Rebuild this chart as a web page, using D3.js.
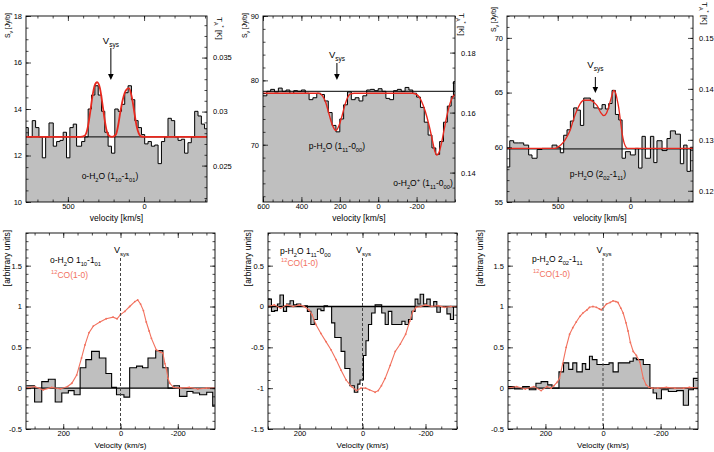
<!DOCTYPE html>
<html><head><meta charset="utf-8">
<script src="https://cdn.jsdelivr.net/npm/d3@7"></script>
<style>
body{margin:0;background:#fff}
svg{display:block}
text{font-family:"Liberation Sans",Arial,Helvetica,sans-serif}
</style>
</head><body>
<svg id="c" width="714" height="452"></svg>
<script>
// ---------------- DATA ----------------
// Top row: spectra (flux density, Jy/beam) on channel edges (km/s)
const p1Edges = [775,760,734,712,690,668,646,624,596,574,552,531,509,487,465,443,410,389,367,345,323,301,279,258,236,214,192,170,148,127,105,83,61,39,17,-4,-26,-48,-70,-92,-114,-135,-157,-179,-201,-223,-245,-266,-288,-310,-332,-354,-376,-397,-413];
const p1Flux  = [13.2,12.8,13.5,13.2,12.8,11.9,12.8,13.4,12.4,12.6,12.65,13.0,11.9,13.2,13.35,12.4,12.6,12.8,14.0,14.6,15.0,14.6,13.9,13.0,12.4,12.1,14.0,13.9,14.2,14.7,15.0,14.4,13.5,13.2,12.9,12.5,12.6,12.4,12.45,11.65,12.6,12.8,13.6,13.5,12.8,12.65,12.7,12.1,12.55,12.8,13.9,13.7,13.35,13.15];
const p1FitV  = [775,420,390,370,355,340,325,308,290,275,260,245,230,210,185,170,155,140,120,100,80,65,50,35,20,0,-413];
const p1FitF  = [12.8,12.8,12.85,13.2,13.8,14.5,15.0,15.15,14.9,14.3,13.6,13.05,12.85,12.8,12.9,13.3,13.9,14.4,14.8,14.9,14.5,13.9,13.3,12.95,12.82,12.8,12.8];

const p2Edges = [600,580,560,540,520,500,480,460,440,420,400,380,360,340,320,300,280,260,240,220,200,180,160,140,120,100,80,60,40,20,0,-20,-40,-60,-80,-100,-120,-140,-160,-180,-200,-220,-240,-260,-280,-300,-320,-340,-360,-380,-392,-400];
const p2Flux  = [77.6,78.3,78.6,78.2,78.8,78.3,78.5,78.0,78.4,78.3,78.5,78.0,77.0,77.3,78.0,77.8,76.8,75.0,73.0,72.0,74.0,76.2,78.2,77.0,77.3,76.8,77.6,78.5,78.6,78.4,78.7,78.3,77.2,77.0,78.4,78.6,78.3,78.9,78.5,78.0,77.4,75.8,73.5,71.5,69.5,68.5,70.5,73.5,76.0,77.5,79.8];
const p2FitV  = [600,310,290,275,260,245,230,220,205,190,175,160,145,125,-180,-205,-225,-245,-265,-280,-295,-305,-315,-330,-345,-360,-375,-390,-400];
const p2FitF  = [78,78,77.6,76.7,75.2,73.6,72.5,72.2,72.9,74.3,76.0,77.3,77.9,78,78,77.7,76.8,75.2,73.0,71.0,69.0,68.4,68.7,70.3,72.6,74.8,76.5,77.5,77.8];

const p3Edges = [849,830,803,768,734,700,677,642,608,539,505,482,459,436,413,390,367,344,321,298,275,252,218,195,172,149,126,103,80,57,34,0,-34,-57,-80,-103,-138,-161,-183,-218,-252,-275,-310,-344,-367,-390,-413,-431];
const p3Flux  = [58.2,60.6,60.4,60.4,60.2,59.3,59.0,59.8,59.9,60.2,60.0,59.5,61.1,61.6,62.4,63.6,63.4,62.0,64.5,64.5,64.3,63.6,63.5,63.9,63.5,64.0,65.2,63.0,62.5,59.0,59.6,59.3,59.9,58.1,61.0,59.0,61.0,58.6,60.6,59.7,60.8,61.5,61.2,58.5,60.2,57.8,60.0];
const p3FitV  = [849,520,490,459,435,413,390,367,345,321,275,250,229,205,183,165,149,130,115,100,90,80,68,57,45,34,20,-431];
const p3FitF  = [59.9,59.9,60.1,60.5,61.0,61.6,62.6,63.4,64.0,64.3,64.3,64.1,63.8,63.2,62.9,63.1,63.7,64.6,65.2,64.9,64.3,63.6,62.4,61.3,60.5,60.1,59.9,59.9];

const topBaselines = [12.8, 78.3, 59.85];
const topVsys      = [218, 215, 241];

// Bottom row: normalised profiles (arbitrary units)
const p4Edges = [329,300,275,252,228,205,182,162,141,121,101,74,51,31,14,-12,-32,-56,-77,-96,-123,-148,-166,-186,-206,-232,-253,-276,-301,-322,-329];
const p4H2O   = [0.03,-0.17,0.08,0.11,-0.17,-0.06,-0.03,-0.08,0.25,0.35,0.45,0.37,0.18,0.01,-0.08,-0.11,0.25,0.27,0.25,0.37,0.46,0.25,0.0,0.03,-0.1,-0.04,-0.06,-0.08,-0.05,-0.22];
const p4COv   = [330,300,270,240,210,185,170,153,136,124,110,95,72,50,26,12,0,-15,-32,-50,-60,-70,-80,-90,-100,-108,-125,-140,-148,-155,-160,-166,-172,-185,-210,-240,-270,-300,-330];
const p4CO    = [0,0.02,-0.02,0.01,-0.01,0.02,0.06,0.16,0.37,0.53,0.68,0.76,0.81,0.85,0.87,0.85,0.9,0.94,1.0,1.06,1.08,1.03,0.95,0.81,0.7,0.61,0.47,0.44,0.43,0.3,0.24,0.12,0.06,0.01,0,0.01,-0.01,0,0];

const p5Edges = [300,289,279,270,262,251,241,230,219,209,196,185,175,164,153,143,132,122,111,98,88,68,56,40,26,15,8,-3,-11,-19,-29,-40,-50,-61,-72,-82,-93,-104,-114,-125,-135,-146,-157,-167,-176,-183,-194,-204,-215,-226,-236,-247,-258,-268,-279,-289,-300];
const p5H2O   = [0.09,-0.06,-0.05,0.03,0.14,-0.06,0.03,0.07,0.02,0.03,0.0,0.01,-0.06,-0.22,-0.16,-0.03,-0.05,0.01,0.0,-0.2,-0.38,-0.55,-0.76,-0.97,-1.05,-0.95,-0.9,-0.6,-0.42,-0.22,-0.08,0.02,0.02,-0.08,-0.22,-0.06,-0.22,-0.22,-0.22,-0.18,-0.22,-0.16,-0.06,0.09,0.03,0.15,0.03,0.09,0.0,0.06,-0.07,0.0,0.0,-0.09,-0.16,0.0];
const p5COv   = [300,280,260,240,220,200,185,170,160,148,132,116,100,84,68,52,35,19,5,-10,-22,-40,-50,-60,-72,-88,-104,-120,-137,-150,-160,-170,-185,-200,-220,-240,-260,-280,-300];
const p5CO    = [0,0.02,-0.02,0.02,0,0.02,0,-0.04,-0.1,-0.22,-0.33,-0.43,-0.53,-0.65,-0.78,-0.9,-0.98,-1.03,-1.0,-1.0,-1.02,-1.05,-1.03,-0.97,-0.88,-0.72,-0.55,-0.46,-0.34,-0.18,-0.06,-0.01,0,0.02,0,0.01,-0.01,0,0];

const p6Edges = [331,308,279,256,233,215,192,177,153,137,119,105,91,72,60,47,37,21,2,-21,-35,-53,-72,-93,-105,-116,-140,-163,-174,-186,-203,-227,-256,-279,-297,-314,-329];
const p6H2O   = [0.02,-0.01,0.02,-0.02,0.06,0.08,0.04,0.0,0.2,0.31,0.23,0.31,0.2,0.3,0.23,0.39,0.35,0.29,0.29,0.31,0.2,0.31,0.31,0.33,0.37,0.35,0.29,0.0,-0.06,-0.13,-0.02,-0.04,-0.03,-0.21,-0.02,0.12];
const p6COv   = [330,300,270,240,215,195,180,170,160,151,140,128,116,105,93,80,70,55,47,35,23,12,6,-2,-12,-25,-35,-45,-52,-62,-70,-80,-87,-95,-105,-116,-128,-140,-150,-160,-170,-190,-220,-250,-280,-300,-330];
const p6CO    = [0,0.02,-0.01,0.02,-0.03,0.02,0,0.03,0.07,0.12,0.3,0.5,0.66,0.74,0.81,0.88,0.92,0.96,0.99,1.0,0.99,0.97,0.96,0.99,1.03,1.05,1.07,1.06,1.05,0.98,0.92,0.8,0.7,0.56,0.45,0.4,0.32,0.12,0.04,0.01,0,0,0.01,0,0,0.01,0];

// Tick labels
const topXTicks = [[500,0],[600,400,200,0,-200],[500,0]];
const topYTicks = [[10,12,14,16,18],[70,80,90],[55,60,65,70]];
const topY2Ticks = [[0.025,0.03,0.035],[0.14,0.16,0.18],[0.12,0.13,0.14,0.15]];
const botXTicks = [200,0,-200];
const botYTicks = [[-0.5,0,0.5,1,1.5],[-1.5,-1,-0.5,0,0.5],[-0.5,0,0.5,1,1.5]];

// ---------------- STYLE / LAYOUT ----------------
const GRAY = "#bfbfbf", RED = "#e8281e", CORED = "#f2715e";
const svg = d3.select("#c");
const fmt = v => String(+v.toFixed(4));

function rich(g, x, y, parts, size, color, anchor, transform) {
  const t = g.append("text").attr("x", x).attr("y", y).attr("font-size", size)
    .attr("fill", color).attr("text-anchor", anchor || "start");
  if (transform) t.attr("transform", transform);
  let off = 0;
  parts.forEach(([s, k]) => {
    const target = k === "sub" ? size * 0.32 : k === "sup" ? -size * 0.42 : 0;
    t.append("tspan").attr("dy", (target - off).toFixed(2))
      .attr("font-size", k === "n" ? size : size * 0.68).text(s);
    off = target;
  });
  return t;
}

function axes(g, fr, x, y, y2, xMaj, xMin, yMaj, yMin, y2Maj, y2Min, xPad) {
  const tsz = 7.5;
  const style = sel => {
    sel.select(".domain").remove();
    sel.selectAll("line").attr("stroke", "#000").attr("stroke-width", 0.7);
    sel.selectAll("text").attr("font-size", tsz).attr("fill", "#000")
      .style("font-family", '"Liberation Sans",Arial,sans-serif');
  };
  const mk = (gen, sc, vals, size, lab, tr, pad) => {
    const a = gen(sc).tickValues(vals).tickSize(size).tickPadding(pad || 4)
      .tickFormat(lab ? fmt : () => "");
    g.append("g").attr("transform", tr).call(a).call(style);
  };
  mk(d3.axisBottom, x, xMaj, -5, true, `translate(0,${fr.y1})`, xPad);
  mk(d3.axisBottom, x, xMin, -2.5, false, `translate(0,${fr.y1})`);
  mk(d3.axisTop, x, xMaj, -5, false, `translate(0,${fr.y0})`);
  mk(d3.axisTop, x, xMin, -2.5, false, `translate(0,${fr.y0})`);
  mk(d3.axisLeft, y, yMaj, -5, true, `translate(${fr.x0},0)`, 4);
  mk(d3.axisLeft, y, yMin, -2.5, false, `translate(${fr.x0},0)`);
  if (y2) {
    mk(d3.axisRight, y2, y2Maj, -5, true, `translate(${fr.x1},0)`, 6);
    mk(d3.axisRight, y2, y2Min, -2.5, false, `translate(${fr.x1},0)`);
  } else {
    mk(d3.axisRight, y, yMaj, -5, false, `translate(${fr.x1},0)`);
    mk(d3.axisRight, y, yMin, -2.5, false, `translate(${fr.x1},0)`);
  }
  g.append("rect").attr("x", fr.x0).attr("y", fr.y0).attr("width", fr.x1 - fr.x0)
    .attr("height", fr.y1 - fr.y0).attr("fill", "none").attr("stroke", "#000").attr("stroke-width", 0.9);
}

function stepPts(edges, vals) {
  return edges.map((e, i) => [e, vals[Math.min(i, vals.length - 1)]]);
}

// ---------------- TOP ROW ----------------
const topCfg = [
  {fr:{x0:26,x1:207,y0:16,y1:202}, xd:[775,-413], yd:[10,18], y2d:[0.02163,0.03885],
   e:p1Edges, f:p1Flux, fv:p1FitV, ff:p1FitF, xMin:d3.range(700,-401,-100), yMin:d3.range(10,18.01,0.5), y2Min:d3.range(0.022,0.0385,0.001),
   fitW:1.8, lab:{x:110,y:179}, vs:{ty:44, a0:48, a1:80},
   yl:[10,13], y2l:[217,17]},
  {fr:{x0:263,x1:455,y0:16,y1:202}, xd:[600,-400], yd:[61.1,90], y2d:[0.1302,0.1922],
   e:p2Edges, f:p2Flux, fv:p2FitV, ff:p2FitF, xMin:d3.range(600,-401,-50), yMin:d3.range(62,90.01,2), y2Min:d3.range(0.135,0.19,0.005),
   fitW:1.4, lab:{x:337,y:149}, vs:{ty:58, a0:63, a1:80},
   yl:[247,13], y2l:[459,13]},
  {fr:{x0:507,x1:693,y0:16,y1:202}, xd:[849,-431], yd:[55,72], y2d:[0.1178,0.1543],
   e:p3Edges, f:p3Flux, fv:p3FitV, ff:p3FitF, xMin:d3.range(800,-401,-100), yMin:d3.range(55,72.01,1), y2Min:d3.range(0.118,0.154,0.002),
   fitW:1.3, lab:{x:598,y:177}, vs:{ty:68, a0:77, a1:93},
   yl:[496,7], y2l:[702,2]}
];
const topLabels = [
  [["o-H","n"],["2","sub"],["O (1","n"],["10","sub"],["-1","n"],["01","sub"],[")","n"]],
  [["p-H","n"],["2","sub"],["O (1","n"],["11","sub"],["-0","n"],["00","sub"],[")","n"]],
  [["p-H","n"],["2","sub"],["O (2","n"],["02","sub"],["-1","n"],["11","sub"],[")","n"]]
];

topCfg.forEach((c, i) => {
  const g = svg.append("g");
  const fr = c.fr;
  const x = d3.scaleLinear().domain(c.xd).range([fr.x0, fr.x1]);
  const y = d3.scaleLinear().domain(c.yd).range([fr.y1, fr.y0]);
  const y2 = d3.scaleLinear().domain(c.y2d).range([fr.y1, fr.y0]);
  const cid = "clipT" + i;
  g.append("clipPath").attr("id", cid).append("rect")
    .attr("x", fr.x0).attr("y", fr.y0).attr("width", fr.x1 - fr.x0).attr("height", fr.y1 - fr.y0);
  const pg = g.append("g").attr("clip-path", `url(#${cid})`);
  const pts = stepPts(c.e, c.f);
  pg.append("path").datum(pts).attr("fill", GRAY)
    .attr("d", d3.area().x(d => x(d[0])).y0(fr.y1).y1(d => y(d[1])).curve(d3.curveStepAfter));
  pg.append("path").datum(pts).attr("fill", "none").attr("stroke", "#000").attr("stroke-width", 1)
    .attr("d", d3.line().x(d => x(d[0])).y(d => y(d[1])).curve(d3.curveStepAfter));
  pg.append("line").attr("x1", fr.x0).attr("x2", fr.x1)
    .attr("y1", y(topBaselines[i])).attr("y2", y(topBaselines[i])).attr("stroke", "#000").attr("stroke-width", 1);
  const fit = c.fv.map((v, k) => [v, c.ff[k]]);
  pg.append("path").datum(fit).attr("fill", "none").attr("stroke", RED).attr("stroke-width", c.fitW)
    .attr("d", d3.line().x(d => x(d[0])).y(d => y(d[1])).curve(d3.curveMonotoneX));
  axes(g, fr, x, y, y2, topXTicks[i], c.xMin, topYTicks[i], c.yMin, topY2Ticks[i], c.y2Min, 2);

  rich(g, c.lab.x, c.lab.y, topLabels[i], 8.5, "#000", "middle");
  if (i === 1) {
    rich(g, 423, 186, [["o-H","n"],["2","sub"],["O","n"],["+","sup"],[" (1","n"],["11","sub"],["-0","n"],["00","sub"],[")","n"]], 8.5, "#000", "middle");
  }
  const vx = x(topVsys[i]);
  rich(g, vx, c.vs.ty, [["V","n"],["sys","sub"]], 9.5, "#000", "middle");
  g.append("line").attr("x1", vx).attr("x2", vx).attr("y1", c.vs.a0).attr("y2", c.vs.a1 - 5)
    .attr("stroke", "#000").attr("stroke-width", 1);
  g.append("path").attr("d", `M${vx - 2.8},${c.vs.a1 - 6}L${vx + 2.8},${c.vs.a1 - 6}L${vx},${c.vs.a1}Z`).attr("fill", "#000");
  rich(g, 0, 0, [["S","n"],["ν","sub"],[" [Jy/b]","n"]], 8, "#000", "end",
       `translate(${c.yl[0]},${c.yl[1]}) rotate(-90)`).attr("textLength", 25).attr("lengthAdjust", "spacingAndGlyphs");
  rich(g, 0, 0, [["T","n"],["A","sub"],["*","sup"],[" [K]","n"]], 8, "#000", "start",
       `translate(${c.y2l[0]},${c.y2l[1]}) rotate(90)`);
  g.append("text").attr("x", (fr.x0 + fr.x1) / 2).attr("y", 221).attr("font-size", 8.5)
    .attr("text-anchor", "middle").text("velocity [km/s]");
});

// ---------------- BOTTOM ROW ----------------
const botCfg = [
  {fr:{x0:26,x1:215,y0:233,y1:429}, xd:[330,-330], yd:[-0.5,1.9], e:p4Edges, h:p4H2O, cv:p4COv, co:p4CO,
   leg:{x:50,y1:263,y2:278}, yl:[10,230],
   name:[["o-H","n"],["2","sub"],["O 1","n"],["10","sub"],["-1","n"],["01","sub"]]},
  {fr:{x0:268,x1:457,y0:233,y1:429}, xd:[300,-300], yd:[-1.5,0.9], e:p5Edges, h:p5H2O, cv:p5COv, co:p5CO,
   leg:{x:280,y1:254,y2:266}, yl:[251,230],
   name:[["p-H","n"],["2","sub"],["O 1","n"],["11","sub"],["-0","n"],["00","sub"]]},
  {fr:{x0:508,x1:698,y0:233,y1:429}, xd:[330,-330], yd:[-0.5,1.9], e:p6Edges, h:p6H2O, cv:p6COv, co:p6CO,
   leg:{x:532,y1:262,y2:277}, yl:[483,230],
   name:[["p-H","n"],["2","sub"],["O 2","n"],["02","sub"],["-1","n"],["11","sub"]]}
];

botCfg.forEach((c, i) => {
  const g = svg.append("g");
  const fr = c.fr;
  const x = d3.scaleLinear().domain(c.xd).range([fr.x0, fr.x1]);
  const y = d3.scaleLinear().domain(c.yd).range([fr.y1, fr.y0]);
  const cid = "clipB" + i;
  g.append("clipPath").attr("id", cid).append("rect")
    .attr("x", fr.x0).attr("y", fr.y0).attr("width", fr.x1 - fr.x0).attr("height", fr.y1 - fr.y0);
  const pg = g.append("g").attr("clip-path", `url(#${cid})`);
  const pts = stepPts(c.e, c.h);
  pg.append("path").datum(pts).attr("fill", GRAY)
    .attr("d", d3.area().x(d => x(d[0])).y0(y(0)).y1(d => y(d[1])).curve(d3.curveStepAfter));
  pg.append("path").datum(pts).attr("fill", "none").attr("stroke", "#000").attr("stroke-width", 1.1)
    .attr("d", d3.line().x(d => x(d[0])).y(d => y(d[1])).curve(d3.curveStepAfter));
  pg.append("line").attr("x1", fr.x0).attr("x2", fr.x1).attr("y1", y(0)).attr("y2", y(0))
    .attr("stroke", "#000").attr("stroke-width", 1.4);
  const co = c.cv.map((v, k) => [v, c.co[k]]);
  pg.append("path").datum(co).attr("fill", "none").attr("stroke", CORED).attr("stroke-width", 1.1)
    .attr("d", d3.line().x(d => x(d[0])).y(d => y(d[1])));
  pg.selectAll("circle").data(co).join("circle").attr("cx", d => x(d[0])).attr("cy", d => y(d[1]))
    .attr("r", 0.9).attr("fill", CORED);
  g.append("line").attr("x1", x(0)).attr("x2", x(0)).attr("y1", 258).attr("y2", fr.y1)
    .attr("stroke", "#444").attr("stroke-width", 1).attr("stroke-dasharray", "3,2");
  rich(g, x(0) + 1, 253, [["V","n"],["sys","sub"]], 9, "#000", "middle");
  axes(g, fr, x, y, null, botXTicks, d3.range(300, -301, -50), botYTicks[i],
       d3.range(c.yd[0], c.yd[1] + 0.001, 0.1), null, null, 2);
  rich(g, c.leg.x, c.leg.y1, c.name, 8.5, "#000", "start");
  rich(g, c.leg.x + 1, c.leg.y2, [["12","sup"],["CO(1-0)","n"]], 8.5, CORED, "start");
  g.append("text").attr("transform", `translate(${c.yl[0]},${c.yl[1]}) rotate(-90)`)
    .attr("text-anchor", "end").attr("font-size", 8.5).text("[arbitrary units]");
  g.append("text").attr("x", (fr.x0 + fr.x1) / 2).attr("y", 447.5).attr("font-size", 8)
    .attr("text-anchor", "middle").text("Velocity (km/s)");
});
</script>
</body></html>
